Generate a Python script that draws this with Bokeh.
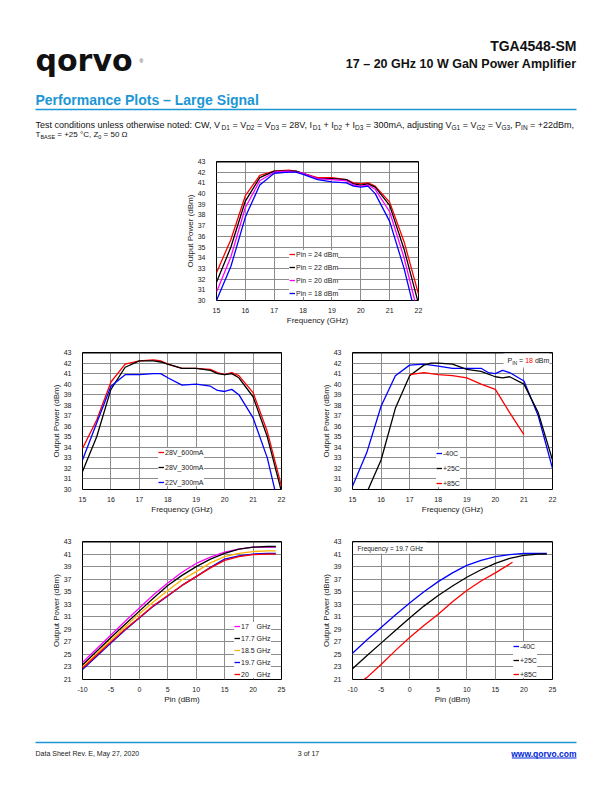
from bokeh.plotting import figure
from bokeh.models import (Range1d, FixedTicker, Legend, LegendItem, Label,
                          BoxAnnotation, Span)
from bokeh.layouts import column, row
from bokeh.embed import file_html
from bokeh.resources import INLINE

FONT = "Liberation Sans"

# ---------------- data ----------------
# Chart 1: Output Power vs. Frequency vs. Pin
freq_a = [15, 15.5, 16, 16.5, 17, 17.5, 17.75, 18, 18.5, 19, 19.5, 19.75, 20, 20.25, 20.5, 21, 21.5, 22]
pin24 = [32.6, 35.7, 39.8, 41.7, 42.1, 42.2, 42.1, 41.9, 41.5, 41.5, 41.3, 41.0, 40.9, 41.0, 40.7, 39.2, 35.5, 30.6]
pin22 = [31.7, 35.0, 39.3, 41.5, 42.1, 42.1, 42.1, 41.9, 41.4, 41.4, 41.3, 40.9, 40.8, 40.9, 40.6, 38.9, 34.8, 29.7]
pin20 = [30.8, 34.1, 38.7, 41.2, 42.0, 42.1, 42.0, 41.9, 41.4, 41.3, 41.2, 40.8, 40.7, 40.8, 40.4, 38.3, 34.0, 28.6]
pin18 = [30.0, 33.2, 37.8, 40.8, 41.9, 42.0, 42.0, 41.8, 41.3, 41.1, 41.0, 40.7, 40.6, 40.7, 40.0, 37.4, 33.0, 27.5]
pin_labels = ["Pin = 24 dBm", "Pin = 22 dBm", "Pin = 20 dBm", "Pin = 18 dBm"]

# Chart 2: Output Power vs. Frequency vs. Bias
b28_600 = [33.9, 36.6, 40.2, 41.9, 42.2, 42.3, 42.2, 41.9, 41.5, 41.5, 41.4, 41.1, 40.9, 41.1, 40.8, 39.2, 35.5, 30.3]
b28_300 = [31.7, 35.0, 39.5, 41.6, 42.2, 42.2, 42.1, 41.9, 41.5, 41.5, 41.3, 41.0, 40.9, 41.0, 40.6, 38.8, 35.0, 29.8]
b22_300 = [32.8, 36.3, 39.8, 40.9, 40.9, 41.0, 41.0, 40.6, 39.9, 40.0, 39.8, 39.4, 39.3, 39.5, 39.0, 36.8, 33.0, 27.3]
bias_labels = ["28V_600mA", "28V_300mA", "22V_300mA"]

# Chart 3: Output Power vs. Frequency vs. Tbase (Pin = 18 dBm)
freq_m40 = [15, 15.5, 16, 16.5, 17, 17.5, 18, 18.5, 19, 19.5, 19.75, 20, 20.25, 20.5, 21, 21.5, 22]
t_m40 = [30.3, 33.5, 37.9, 40.8, 41.8, 41.9, 41.7, 41.5, 41.5, 41.5, 41.1, 41.0, 41.3, 41.1, 40.3, 37.0, 32.0]
freq_p25 = [15.5, 16, 16.5, 17, 17.5, 17.75, 18, 18.5, 19, 19.5, 20, 20.25, 20.5, 21, 21.5, 22]
t_p25 = [29.7, 32.8, 37.7, 40.8, 41.8, 42.0, 42.0, 41.9, 41.4, 41.2, 40.7, 40.6, 40.7, 40.0, 37.3, 32.8]
freq_p85 = [17, 17.5, 18, 18.5, 19, 19.5, 20, 20.5, 21]
t_p85 = [40.9, 41.1, 40.9, 40.8, 40.6, 40.0, 39.5, 37.3, 35.2]
temp_labels = ["-40C", "+25C", "+85C"]

# Chart 4: Output Power vs. Pin vs. Frequency
pin_x = [-10, -7.5, -5, -2.5, 0, 2.5, 5, 7.5, 10, 12.5, 15, 17.5, 20, 22.5, 24]
f17 = [23.7, 25.9, 28.1, 30.3, 32.4, 34.5, 36.4, 38.1, 39.5, 40.5, 41.3, 41.8, 42.1, 42.1, 42.1]
f177 = [23.3, 25.5, 27.7, 29.8, 31.9, 34.0, 36.0, 37.6, 39.0, 40.2, 41.1, 41.8, 42.1, 42.2, 42.2]
f185 = [23.0, 25.1, 27.3, 29.4, 31.5, 33.4, 35.2, 36.9, 38.2, 39.6, 40.6, 41.1, 41.4, 41.5, 41.5]
f197 = [22.6, 24.7, 26.8, 28.9, 30.8, 32.7, 34.3, 36.0, 37.4, 38.9, 40.2, 40.7, 41.0, 41.1, 41.1]
f20 = [22.8, 24.9, 27.0, 29.0, 30.9, 32.8, 34.4, 36.0, 37.4, 38.8, 40.0, 40.6, 40.9, 41.0, 41.0]
freq_labels = ["17    GHz", "17.7 GHz", "18.5 GHz", "19.7 GHz", "20    GHz"]

# Chart 5: Output Power vs. Pin vs. Tbase (19.7 GHz)
p5_m40 = [25.2, 27.3, 29.3, 31.3, 33.2, 35.0, 36.6, 38.0, 39.2, 40.0, 40.6, 40.9, 41.1, 41.1, 41.1]
p5_p25 = [22.7, 24.8, 26.8, 28.8, 30.8, 32.7, 34.4, 35.9, 37.3, 38.5, 39.5, 40.3, 40.8, 41.0, 41.0]
pin_p85 = [-8, -7.5, -5, -2.5, 0, 2.5, 5, 7.5, 10, 12.5, 15, 17.5, 18]
p5_p85 = [21.0, 21.3, 23.4, 25.6, 27.7, 29.6, 31.4, 33.4, 35.2, 36.7, 38.0, 39.4, 39.7]

freq_ticks = [15, 16, 17, 18, 19, 20, 21, 22]
pow_ticks_a = list(range(30, 44))
pin_ticks = [-10, -5, 0, 5, 10, 15, 20, 25]
pin_tick_text = {-10: "-10", -5: "-5"}
pow_ticks_b = list(range(21, 44, 2))

# ---------------- text width helper (Arial metrics) ----------------
AW = {' ': 278, ',': 278, '.': 278, ':': 278, '=': 584, '+': 584, '-': 333, '(': 333, ')': 333,
      '°': 400, 'Ω': 768, '–': 556, '_': 556}
for c in "0123456789":
    AW[c] = 556
AW.update(dict(A=667, B=667, C=722, D=722, E=667, F=611, G=778, H=722, I=278, J=500, K=667, L=556,
               M=833, N=722, O=778, P=667, Q=778, R=722, S=667, T=611, U=722, V=667, W=944, X=667,
               Y=667, Z=611))
AW.update(dict(a=556, b=556, c=500, d=556, e=556, f=278, g=556, h=556, i=222, j=222, k=500, l=222,
               m=833, n=556, o=556, p=556, q=556, r=333, s=500, t=278, u=556, v=500, w=722, x=500,
               y=500, z=500))


def tw(s, size, bold=False):
    return sum(AW.get(c, 556) for c in s) * size / 1000.0 * (1.07 if bold else 1.0)


BLUE_HDR = "#1c96d4"
K = "#111111"


class Page:
    """Full-width strip whose data coordinates equal window pixels."""

    def __init__(self, top, height):
        self.top, self.h = top, height
        p = figure(width=612, height=height, x_range=Range1d(0, 612), y_range=Range1d(0, height),
                   toolbar_location=None, output_backend="svg", min_border=0, frame_align=False,
                   x_axis_location=None, y_axis_location=None, title=None)
        p.grid.visible = False
        p.outline_line_color = None
        self.p = p

    def Y(self, wy):
        return self.top + self.h - wy

    def text(self, x, y, text, size, color=K, align="left", style="normal", font=FONT,
             baseline="middle"):
        self.p.add_layout(Label(x=x, y=self.Y(y), text=text, text_font=font,
                                text_font_size=f"{size}px", text_color=color, text_align=align,
                                text_baseline=baseline, text_font_style=style))

    def rule(self, x0, x1, y, w, color):
        self.p.add_layout(BoxAnnotation(left=x0, right=x1, top=self.Y(y - w / 2),
                                        bottom=self.Y(y + w / 2), fill_color=color, fill_alpha=1.0,
                                        line_color=None, level="overlay"))

    def runs(self, segs, x0, y0):
        x = x0
        for text, size, dy in segs:
            lead = len(text) - len(text.lstrip(' '))
            body = text.strip(' ')
            if body:
                self.text(x + tw(text[:lead], size), y0 + dy, body, size)
            x += tw(text, size)


# ---------------- header ----------------
hdr = Page(0, 140)
hdr.text(35, 60, "qorvo", 30, K, "left", "bold", "DejaVu Sans", "alphabetic")
hdr.text(139, 60, "®", 5, "#333333", "left", "normal", FONT, "alphabetic")
hdr.text(576, 45, "TGA4548-SM", 14, K, "right", "bold")
hdr.text(576, 63, "17 – 20 GHz 10 W GaN Power Amplifier", 12.5, K, "right", "bold")
hdr.text(35, 99, "Performance Plots – Large Signal", 14, BLUE_HDR, "left", "bold")
hdr.rule(35, 576, 109, 1.3, BLUE_HDR)

M, S, DY = 9, 6.5, 2.5
line1 = [("Test conditions unless otherwise noted: CW, V", M, 0), ("D1", S, DY), (" = V", M, 0),
         ("D2", S, DY), (" = V", M, 0), ("D3", S, DY), (" = 28V, I", M, 0), ("D1", S, DY),
         (" + I", M, 0), ("D2", S, DY), (" + I", M, 0), ("D3", S, DY),
         (" = 300mA, adjusting V", M, 0), ("G1", S, DY), (" = V", M, 0), ("G2", S, DY),
         (" = V", M, 0), ("G3", S, DY), (", P", M, 0), ("IN", S, DY), (" = +22dBm,", M, 0)]
line2 = [("T", 8, 0), ("BASE", 5.5, 2.3), (" = +25 °C, Z", 8, 0), ("0", 5.5, 2.3), (" = 50 Ω", 8, 0)]
hdr.runs(line1, 35, 124)
hdr.runs(line2, 35, 134)

# ---------------- chart helper ----------------


class Chart:
    def __init__(self, w, h, bl, br, bt, bb, xr, yr, xt, yt, xlabel, overrides=None):
        self.xr, self.yr = xr, yr
        self.fw = w - bl - br
        self.fh = h - bt - bb
        p = figure(width=w, height=h, min_border_left=bl, min_border_right=br, min_border_top=bt,
                   min_border_bottom=bb, x_range=Range1d(*xr), y_range=Range1d(*yr),
                   toolbar_location=None, output_backend="svg", title=None, frame_align=False)
        p.xaxis.ticker = FixedTicker(ticks=xt)
        p.yaxis.ticker = FixedTicker(ticks=yt)
        if overrides:
            p.xaxis.major_label_overrides = overrides
        p.xaxis.axis_label = xlabel
        p.yaxis.axis_label = "Output Power (dBm)"
        for ax in p.axis:
            ax.axis_line_color = None
            ax.major_tick_line_color = None
            ax.minor_tick_line_color = None
            ax.major_label_text_font = FONT
            ax.major_label_text_font_size = "7px"
            ax.major_label_text_color = "#1a1a1a"
            ax.axis_label_text_font = FONT
            ax.axis_label_text_font_size = "8px"
            ax.axis_label_text_font_style = "normal"
            ax.axis_label_text_color = "#1a1a1a"
        p.xaxis.major_label_standoff = 1
        p.xaxis.axis_label_standoff = 0
        p.yaxis.major_label_standoff = 5
        p.yaxis.axis_label_standoff = 0
        p.grid.grid_line_color = "#8c8c8c"
        p.grid.grid_line_width = 1
        p.outline_line_color = "black"
        p.outline_line_width = 1
        p.add_layout(Span(location=yr[1], dimension="width", line_color="black", line_width=2))
        self.p = p

    def d(self, px, py):
        x = self.xr[0] + px / self.fw * (self.xr[1] - self.xr[0])
        y = self.yr[1] - py / self.fh * (self.yr[1] - self.yr[0])
        return x, y

    def label(self, px, py, text, size, color="black", align="left"):
        x, y = self.d(px, py)
        self.p.add_layout(Label(x=x, y=y, text=text, text_font=FONT, text_font_size=f"{size}px",
                                text_color=color, text_align=align, text_baseline="middle"))

    def title(self, py, main, sub=None, shift=0):
        size = 9.7
        if sub is None:
            self.label(self.fw / 2 + shift, py, main, size, K, "center")
        else:
            mw, sw = tw(main, size), tw(sub, 6.5)
            x0 = self.fw / 2 - (mw + sw) / 2 + shift
            self.label(x0, py, main, size, K)
            self.label(x0 + mw, py + 3, sub, 6.5, K)

    def legend(self, rends, labels, vx, vy, spacing):
        items = [LegendItem(label=l, renderers=[r]) for l, r in zip(labels, rends)]
        lg = Legend(items=items, location=(vx, vy), orientation="vertical", glyph_width=6,
                    glyph_height=8, label_height=8, label_width=10, label_standoff=1,
                    spacing=spacing, padding=4, margin=0, border_line_color=None,
                    background_fill_color="white", background_fill_alpha=1.0,
                    label_text_font=FONT, label_text_font_size="7px", label_text_color="#1a1a1a")
        self.p.add_layout(lg)

    def box(self, px0, py0, px1, py1):
        x0, y0 = self.d(px0, py0)
        x1, y1 = self.d(px1, py1)
        self.p.add_layout(BoxAnnotation(left=x0, right=x1, top=y0, bottom=y1, fill_color="white",
                                        fill_alpha=1.0, line_color=None))


LW = 1.3
RED, BLK, MAG, BLU, YEL = "#ff0000", "#000000", "#ff00ff", "#0000ff", "#ffb300"

# Chart 1
c1 = Chart(612, 190, 216, 194, 21, 30, (15, 22), (30, 43), freq_ticks, pow_ticks_a, "Frequency (GHz)")
r1 = [c1.p.line(freq_a, ys, line_color=c, line_width=LW)
      for ys, c in ((pin24, RED), (pin22, BLK), (pin20, MAG), (pin18, BLU))]
c1.title(-7, "Output Power vs. Frequency vs. Pin")
c1.legend(r1, pin_labels, 73, 3, 5)

# Chart 2
c2 = Chart(306, 190, 82, 25, 22, 31, (15, 22), (30, 43), freq_ticks, pow_ticks_a, "Frequency (GHz)")
r2 = [c2.p.line(freq_a, ys, line_color=c, line_width=LW)
      for ys, c in ((b28_600, RED), (b28_300, BLK), (b22_300, BLU))]
c2.title(-7.3, "Output Power vs. Frequency vs. Bias")
c2.legend(r2, bias_labels, 76, 3, 7)

# Chart 3
c3 = Chart(306, 190, 46, 60, 22, 31, (15, 22), (30, 43), freq_ticks, pow_ticks_a, "Frequency (GHz)")
r3 = [c3.p.line(freq_m40, t_m40, line_color=BLU, line_width=LW),
      c3.p.line(freq_p25, t_p25, line_color=BLK, line_width=LW),
      c3.p.line(freq_p85, t_p85, line_color=RED, line_width=LW)]
c3.title(-8, "Output Power vs. Frequency vs. T", "BASE", shift=-3)
c3.legend(r3, temp_labels, 84, 2, 7)
c3.box(151, 1, 197, 15)
px = 155
for text, size, dy, col in (("P", 7, 0, "#1a1a1a"), ("IN", 5, 2, "#1a1a1a"), (" = ", 7, 0, "#1a1a1a"),
                            ("18", 7, 0, RED), (" dBm", 7, 0, "#1a1a1a")):
    lead = len(text) - len(text.lstrip(' '))
    c3.label(px + tw(text[:lead], size), 8 + dy, text.strip(), size, col)
    px += tw(text, size)

# Chart 4
c4 = Chart(306, 190, 82, 25, 21, 31, (-10, 25), (21, 43), pin_ticks, pow_ticks_b, "Pin (dBm)",
           pin_tick_text)
r4 = [c4.p.line(pin_x, ys, line_color=c, line_width=LW)
      for ys, c in ((f17, MAG), (f177, BLK), (f185, YEL), (f197, BLU), (f20, RED))]
c4.title(-8, "Output Power vs. Pin vs. Frequency")
c4.legend(r4, freq_labels, 152, 1, 4)

# Chart 5
c5 = Chart(306, 190, 46, 60, 21, 31, (-10, 25), (21, 43), pin_ticks, pow_ticks_b, "Pin (dBm)",
           pin_tick_text)
r5 = [c5.p.line(pin_x, p5_m40, line_color=BLU, line_width=LW),
      c5.p.line(pin_x, p5_p25, line_color=BLK, line_width=LW),
      c5.p.line(pin_p85, p5_p85, line_color=RED, line_width=LW)]
c5.title(-8, "Output Power vs. Pin vs. T", "BASE", shift=-2)
c5.legend(r5, temp_labels, 161, 1, 6)
c5.box(1, 1, 74, 12)
c5.label(5, 6.5, "Frequency = 19.7 GHz", 6.5, "#1a1a1a")

# ---------------- footer ----------------
ftr = Page(710, 74)
ftr.rule(35, 576, 742, 1.3, BLUE_HDR)
ftr.text(35, 753, "Data Sheet Rev. E, May 27, 2020", 7, "#222222")
ftr.text(308, 753, "3 of 17", 7, "#222222", "center")
ftr.text(576, 753, "www.qorvo.com", 8.5, "#0026d9", "right", "bold")
ww = tw("www.qorvo.com", 8.5, bold=True)
ftr.rule(576 - ww, 576, 757.5, 0.8, "#0026d9")

layout = column(hdr.p, c1.p, row(c2.p, c3.p), row(c4.p, c5.p), ftr.p)

open("out.html", "w").write(file_html(layout, INLINE))
